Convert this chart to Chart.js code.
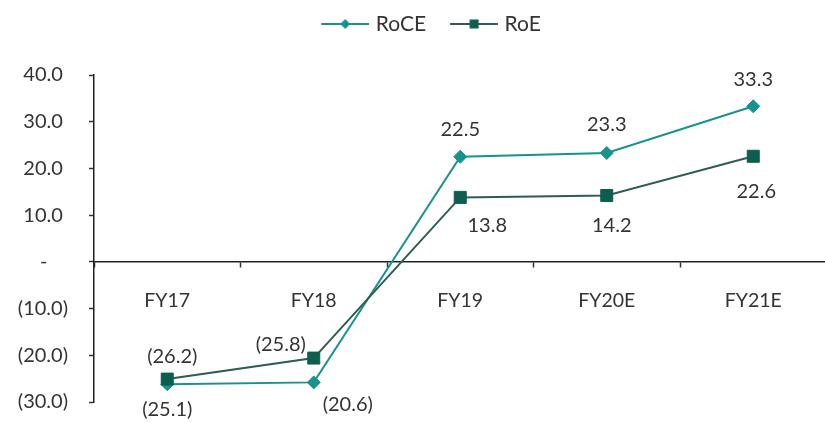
<!DOCTYPE html>
<html><head><meta charset="utf-8">
<script src="https://cdn.jsdelivr.net/npm/chart.js@4/dist/chart.umd.min.js"></script>
<style>
html,body{margin:0;padding:0;background:#fff;overflow:hidden;width:825px;height:423px}
#wrap{width:836px;height:423px}
</style></head>
<body><div id="wrap"><canvas id="c" width="836" height="423"></canvas></div>
<script>
const categories = ['FY17', 'FY18', 'FY19', 'FY20E', 'FY21E'];
const roceValues = [-26.2, -25.8, 22.5, 23.3, 33.3];
const roeValues = [-25.1, -20.6, 13.8, 14.2, 22.6];
const seriesNames = ['RoCE', 'RoE'];
const yMin = -30, yMax = 40, yStep = 10;

// label offsets relative to each point (styling only)
const roceLabelOffsets = [[5, -28], [-33, -38], [0, -27], [0, -28], [0, -27]];
const roeLabelOffsets = [[0, 30], [34, 46], [27, 28], [5, 30], [3, 35]];

const FONT = 'Lato';
const TEXT = '#333333';
const ROCE_COLOR = '#17928e';
const ROE_COLOR = '#0e5e50';
const ROE_LINE = '#2e5d53';
const ICON_W = 58;

function fmt(v) {
  if (v === 0) return '-';
  return v < 0 ? '(' + Math.abs(v).toFixed(1) + ')' : v.toFixed(1);
}
function axisFmt(v) {
  if (v === 0) return '-\u00A0\u00A0\u00A0\u00A0';
  return v < 0 ? '(' + Math.abs(v).toFixed(1) + ')' : v.toFixed(1) + '\u00A0';
}

function legendIcon(lineColor, fill, style) {
  const c = document.createElement('canvas');
  const w = ICON_W + 8;
  c.width = w; c.height = 16;
  const g = c.getContext('2d');
  g.strokeStyle = lineColor; g.lineWidth = 2;
  g.beginPath(); g.moveTo(w - 48, 8); g.lineTo(w, 8); g.stroke();
  g.fillStyle = fill;
  const cx = w - 24, cy = 8;
  g.beginPath();
  if (style === 'rectRot') {
    g.moveTo(cx - 5, cy); g.lineTo(cx, cy - 5); g.lineTo(cx + 5, cy); g.lineTo(cx, cy + 5);
  } else {
    g.rect(cx - 4.5, cy - 4.5, 9, 9);
  }
  g.closePath(); g.fill();
  return c;
}

const legendSpacer = {
  id: 'legendSpacer',
  beforeInit(chart) {
    const fit = chart.legend.fit;
    chart.legend.fit = function () { fit.call(this); this.height += 30.5; };
  }
};

const valueLabels = {
  id: 'valueLabels',
  afterDatasetsDraw(chart) {
    const ctx = chart.ctx;
    ctx.save();
    ctx.font = '20px ' + FONT;
    ctx.fillStyle = TEXT;
    ctx.textAlign = 'center';
    ctx.textBaseline = 'middle';
    chart.data.datasets.forEach((ds, i) => {
      const meta = chart.getDatasetMeta(i);
      meta.data.forEach((pt, j) => {
        const off = ds.labelOffsets[j];
        ctx.fillText(fmt(ds.data[j]), pt.x + off[0], pt.y + off[1]);
      });
    });
    ctx.restore();
  }
};

new Chart(document.getElementById('c'), {
  type: 'line',
  data: {
    labels: categories,
    datasets: [
      {
        label: seriesNames[0], data: roceValues, labelOffsets: roceLabelOffsets,
        borderColor: ROCE_COLOR, backgroundColor: ROCE_COLOR, borderWidth: 2,
        pointStyle: 'rectRot', pointRadius: 6.5, pointBackgroundColor: ROCE_COLOR,
        pointBorderColor: ROCE_COLOR, pointBorderWidth: 1, tension: 0, order: 1
      },
      {
        label: seriesNames[1], data: roeValues, labelOffsets: roeLabelOffsets,
        borderColor: ROE_LINE, backgroundColor: ROE_COLOR, borderWidth: 2,
        pointStyle: 'rect', pointRadius: 8.5, pointBackgroundColor: ROE_COLOR,
        pointBorderColor: ROE_COLOR, pointBorderWidth: 1, tension: 0, order: 0
      }
    ]
  },
  options: {
    responsive: false,
    animation: false,
    devicePixelRatio: 1,
    layout: { padding: { left: 12, right: 0, top: 3.5, bottom: 21 } },
    plugins: {
      tooltip: { enabled: false },
      legend: {
        position: 'top',
        labels: {
          usePointStyle: true,
          pointStyleWidth: ICON_W,
          padding: 10,
          color: TEXT,
          font: { family: FONT, size: 21 },
          generateLabels(chart) {
            return chart.data.datasets.map((ds, i) => ({
              text: ds.label,
              pointStyle: legendIcon(ds.borderColor, ds.pointBackgroundColor, ds.pointStyle),
              fillStyle: ds.pointBackgroundColor,
              strokeStyle: ds.borderColor,
              lineWidth: 0,
              hidden: false,
              datasetIndex: i,
              fontColor: TEXT
            }));
          }
        }
      }
    },
    scales: {
      x: {
        position: { y: 0 },
        offset: true,
        grid: { display: true, offset: true, drawOnChartArea: false, tickLength: 5, color: '#333', tickWidth: 1.5 },
        border: { display: true, color: '#222', width: 1.5 },
        ticks: { font: { family: FONT, size: 19.5 }, color: TEXT, padding: 22, maxRotation: 0, autoSkip: false }
      },
      y: {
        min: yMin, max: yMax,
        grid: { drawOnChartArea: false, tickLength: 5, color: '#333', tickWidth: 1.5 },
        border: { display: true, color: '#222', width: 1.5 },
        ticks: { stepSize: yStep, callback: (v) => axisFmt(v), crossAlign: 'near', padding: 21,
                 font: { family: FONT, size: 20 }, color: TEXT },
        afterFit(s) { s.width = 82; s.paddingTop = 0; s.paddingBottom = 0; }
      }
    }
  },
  plugins: [legendSpacer, valueLabels]
});
</script>
</body></html>
